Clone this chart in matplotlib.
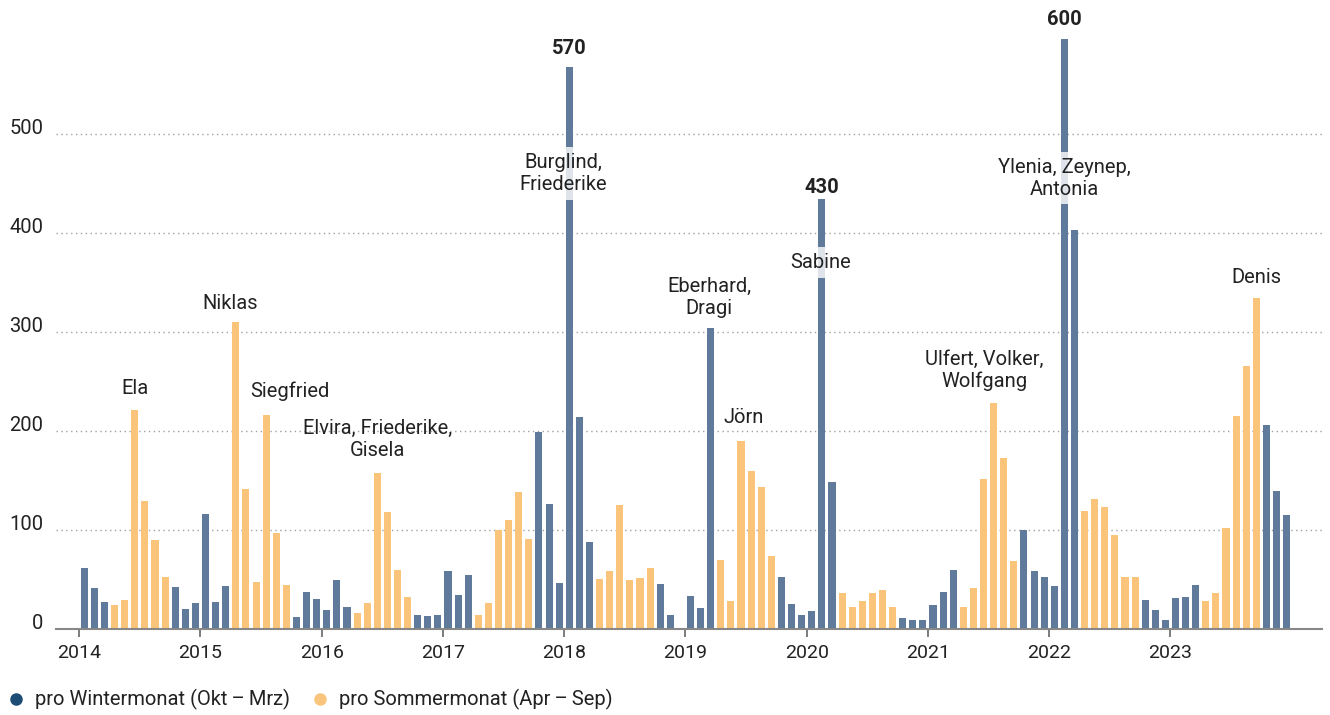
import matplotlib
matplotlib.use('Agg')
import matplotlib.pyplot as plt
from matplotlib.lines import Line2D

plt.rcParams['font.family'] = ['Roboto', 'DejaVu Sans']

years = [2014, 2015, 2016, 2017, 2018, 2019, 2020, 2021, 2022, 2023]

# Schadensmeldungen pro Monat, Jan..Dez je Jahr
v2014 = [62, 41, 27, 24, 29, 221, 129, 90, 52, 42, 20, 26]
v2015 = [116, 27, 43, 310, 141, 47, 216, 97, 44, 12, 37, 30]
v2016 = [19, 49, 22, 16, 26, 158, 118, 60, 32, 14, 13, 14]
v2017 = [59, 34, 55, 14, 26, 100, 110, 138, 91, 199, 126, 46]
v2018 = [567, 214, 88, 50, 59, 125, 49, 51, 62, 45, 14, 0]
v2019 = [33, 21, 304, 70, 28, 190, 160, 143, 74, 52, 25, 14]
v2020 = [18, 434, 148, 36, 22, 28, 36, 39, 22, 11, 9, 9]
v2021 = [24, 37, 60, 22, 41, 151, 228, 173, 69, 100, 59, 52]
v2022 = [43, 596, 403, 119, 131, 123, 95, 53, 53, 29, 19, 9]
v2023 = [31, 32, 44, 28, 36, 102, 215, 266, 334, 206, 139, 115]

values = v2014 + v2015 + v2016 + v2017 + v2018 + v2019 + v2020 + v2021 + v2022 + v2023

# sturm namen: (index des monats, y-position, text)
storm_idx = [5, 14.4, 20.3, 29, 47.4, 61.85, 65.3, 72.9, 89.1, 97, 116]
storm_y = [243, 329, 240, 191, 460, 335, 214, 370, 261, 455, 355]
storm_names = ["Ela", "Niklas", "Siegfried", "Elvira, Friederike,\nGisela",
               "Burglind,\nFriederike", "Eberhard,\nDragi", "Jörn", "Sabine",
               "Ulfert, Volker,\nWolfgang", "Ylenia, Zeynep,\nAntonia", "Denis"]
boxed = ["Burglind,\nFriederike", "Sabine", "Ylenia, Zeynep,\nAntonia"]

peak_idx = [48, 73, 97]
peak_labels = ["570", "430", "600"]

winter_col = '#5f7a9b'
summer_col = '#fac57a'
text_col = '#222222'

fig = plt.figure(figsize=(13.3, 7.15), dpi=100)
ax = fig.add_axes([56 / 1330, 86 / 715, 1266 / 1330, 624 / 715])

x = list(range(len(values)))
colors = []
for i in x:
    m = i % 12
    if m in (0, 1, 2, 9, 10, 11):
        colors.append(winter_col)
    else:
        colors.append(summer_col)

ax.bar(x, values, width=0.7, color=colors, zorder=2)

ax.set_xlim(-2.8, 122.5)
ax.set_ylim(0, 630)

ax.set_xticks([12 * k - 0.5 for k in range(len(years))])
ax.set_xticklabels([str(y) for y in years], fontsize=14, color=text_col)
ax.tick_params(axis='x', length=6, width=1.2, color='#666666', pad=5)

ax.set_yticks([0, 100, 200, 300, 400, 500])
ax.set_yticklabels(['0', '100', '200', '300', '400', '500'], fontsize=14.5, color=text_col)
ax.tick_params(axis='y', length=0, pad=9)
for lab in ax.get_yticklabels():
    lab.set_verticalalignment('baseline')

ax.yaxis.grid(True, linestyle=(0, (1, 2.5)), color='#a0a0a0', linewidth=1.0)
ax.set_axisbelow(True)

for s in ['top', 'right', 'left']:
    ax.spines[s].set_visible(False)
ax.spines['bottom'].set_color('#888888')
ax.spines['bottom'].set_linewidth(1.5)
ax.spines['bottom'].set_zorder(3)

for xi, yi, name in zip(storm_idx, storm_y, storm_names):
    if name in boxed:
        ax.text(xi, yi, name, ha='center', va='center', fontsize=14.5, color=text_col,
                linespacing=1.2, zorder=4,
                bbox=dict(facecolor='white', alpha=0.8, edgecolor='none', pad=4))
    else:
        ax.text(xi, yi, name, ha='center', va='center', fontsize=14.5, color=text_col,
                linespacing=1.2, zorder=4)

for xi, lab in zip(peak_idx, peak_labels):
    ax.text(xi, int(lab) + 6, lab, ha='center', va='bottom', fontsize=14.5,
            fontweight='bold', color=text_col)

handles = [Line2D([], [], marker='o', linestyle='none', markersize=8, color='#1d4d75'),
           Line2D([], [], marker='o', linestyle='none', markersize=8, color='#f9c57c')]
fig.legend(handles, ['pro Wintermonat (Okt\u2009–\u2009Mrz)', 'pro Sommermonat (Apr\u2009–\u2009Sep)'],
           loc='lower left', bbox_to_anchor=(-0.008, -0.016), ncol=2, frameon=False,
           fontsize=14.5, handletextpad=0.45, columnspacing=1.0, handlelength=1.0,
           borderpad=0.3, labelcolor=text_col)

fig.savefig('out.png', dpi=100)
